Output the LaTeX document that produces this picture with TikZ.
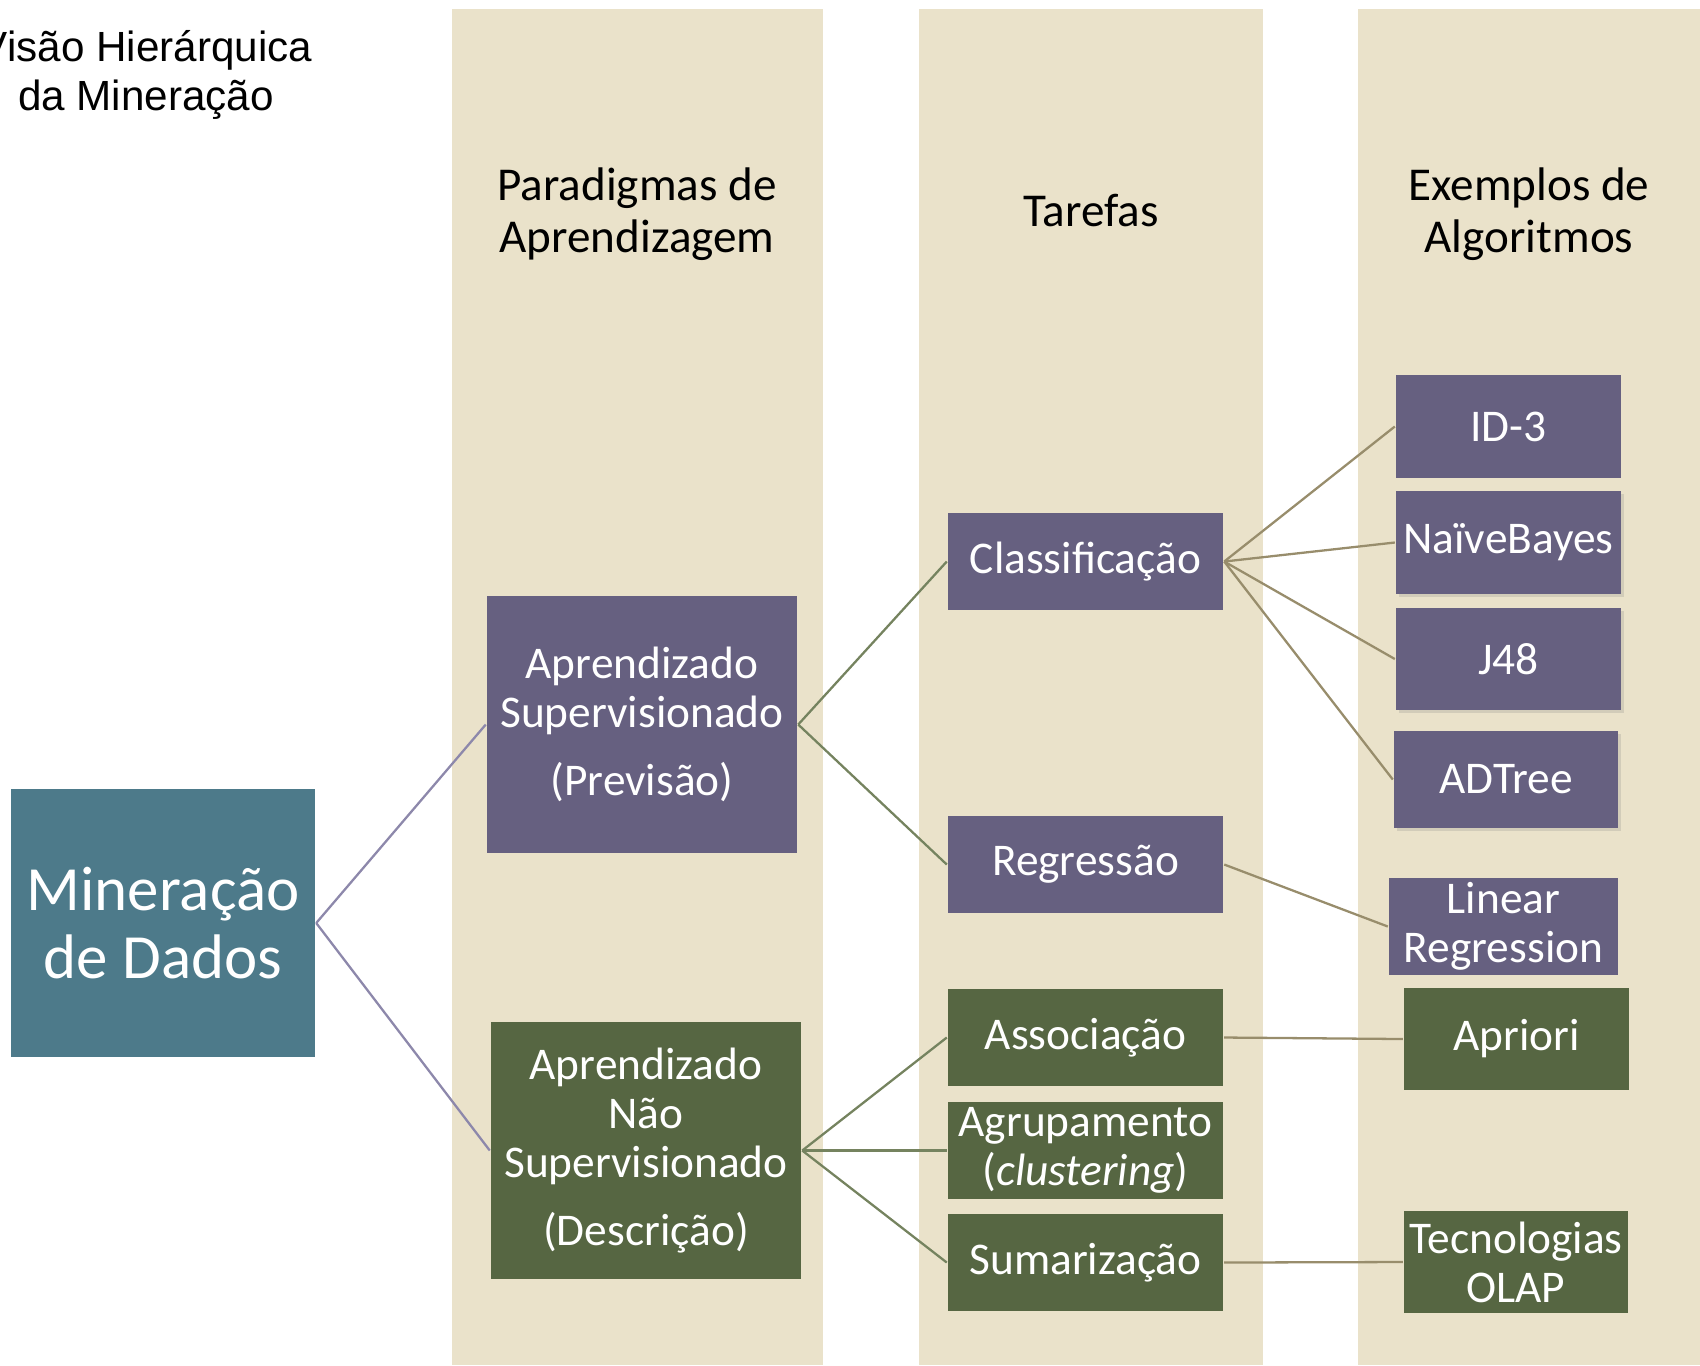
\documentclass[tikz,border=0pt]{standalone}
\usepackage{fontspec}
\setmainfont{Carlito}
\newfontfamily\titlefont{Liberation Sans}
\usetikzlibrary{shadows}
\definecolor{cBand}{HTML}{EAE2CA}
\definecolor{cSup}{HTML}{666080}
\definecolor{cUns}{HTML}{566642}
\definecolor{cRoot}{HTML}{4D7A8A}
\definecolor{cLinkP}{HTML}{8D88AB}
\definecolor{cLinkG}{HTML}{75835F}
\definecolor{cLinkT}{HTML}{988D6C}
\tikzset{
  every picture/.style={line width=0.65pt},
  sBand/.style={fill=cBand},
  sHead/.style={align=center, font=\fontsize{13.4}{14.8}\selectfont},
  sBox/.style={rectangle, inner sep=0pt, text=white, align=center,
               font=\fontsize{12.9}{13.9}\selectfont},
  sSup/.style={sBox, fill=cSup},
  sUns/.style={sBox, fill=cUns},
  sRoot/.style={sBox, fill=cRoot, font=\fontsize{17.9}{19.3}\selectfont},
  sShade/.style={drop shadow={opacity=0.22, shadow xshift=0.8pt, shadow yshift=-0.8pt}},
  sLinkP/.style={draw=cLinkP},  % root -> paradigms
  sLinkG/.style={draw=cLinkG},  % paradigms -> tasks
  sLinkT/.style={draw=cLinkT},  % tasks -> algorithms
}

\begin{document}
\begin{tikzpicture}[x=0.01cm, y=-0.01cm]
  \useasboundingbox (0,0) rectangle (1700,1365);
  \foreach \xa/\xb in {452/823, 919/1263, 1358/1700}
    \fill[sBand] (\xa,9) rectangle (\xb,1365);
  \node[align=center, font=\titlefont\fontsize{12}{13.9}\selectfont] (title) at (146,75) {Visão Hierárquica\\da Mineração};
  \node[sHead] (hPar) at (637,214) {Paradigmas de\\Aprendizagem};
  \node[sHead] (hTar) at (1091,210) {Tarefas};
  \node[sHead] (hAlg) at (1529,214) {Exemplos de\\Algoritmos};

  \node[sRoot, minimum width=3.04cm, minimum height=2.68cm] (mine) at (163,923) {Mineração\\de Dados};

  \node[sSup, minimum width=3.1cm, minimum height=2.57cm] (sup) at (642,724.5) {Aprendizado\\Supervisionado\\[5.4pt](Previsão)};
  \node[sUns, minimum width=3.1cm, minimum height=2.57cm] (uns) at (646,1150.5) {Aprendizado\\Não\\Supervisionado\\[5.6pt](Descrição)};

  \node[sSup, minimum width=2.75cm, minimum height=0.97cm] (cla) at (1085.5,561.5) {Classificação};
  \node[sSup, minimum width=2.75cm, minimum height=0.97cm] (reg) at (1085.5,864.5) {Regressão};
  \node[sUns, minimum width=2.75cm, minimum height=0.97cm] (ass) at (1085.5,1037.5) {Associação};
  \node[sUns, minimum width=2.75cm, minimum height=0.97cm] (agr) at (1085.5,1150.5) {Agrupamento\\(\textit{clustering})};
  \node[sUns, minimum width=2.75cm, minimum height=0.97cm] (sum) at (1085.5,1262.5) {Sumarização};

  \node[sSup, minimum width=2.25cm, minimum height=1.03cm] (id3) at (1508.5,426.5) {ID-3};
  \node[sSup, sShade, minimum width=2.25cm, minimum height=1.03cm] (nb) at (1508.5,542.5) {NaïveBayes};
  \node[sSup, sShade, minimum width=2.25cm, minimum height=1.02cm] (j48) at (1508.5,659) {J48};
  \node[sSup, sShade, minimum width=2.24cm, minimum height=0.97cm] (adt) at (1506,779.5) {ADTree};
  \node[sSup, minimum width=2.29cm, minimum height=0.97cm] (lr) at (1503.5,926.5) {Linear\\Regression};
  \node[sUns, minimum width=2.25cm, minimum height=1.02cm] (apr) at (1516.5,1039) {Apriori};
  \node[sUns, minimum width=2.24cm, minimum height=1.02cm] (olap) at (1516,1262) {Tecnologias\\OLAP};

  \draw[sLinkP] (mine.east) -- (sup.west);
  \draw[sLinkP] (mine.east) -- (uns.west);
  \draw[sLinkG] (sup.east) -- (cla.west);
  \draw[sLinkG] (sup.east) -- (reg.west);
  \draw[sLinkG] (uns.east) -- (ass.west);
  \draw[sLinkG] (uns.east) -- (agr.west);
  \draw[sLinkG] (uns.east) -- (sum.west);
  \draw[sLinkT] (cla.east) -- (id3.west);
  \draw[sLinkT] (cla.east) -- (nb.west);
  \draw[sLinkT] (cla.east) -- (j48.west);
  \draw[sLinkT] (cla.east) -- (adt.west);
  \draw[sLinkT] (reg.east) -- (lr.west);
  \draw[sLinkT] (ass.east) -- (apr.west);
  \draw[sLinkT] (sum.east) -- (olap.west);
\end{tikzpicture}
\end{document}
